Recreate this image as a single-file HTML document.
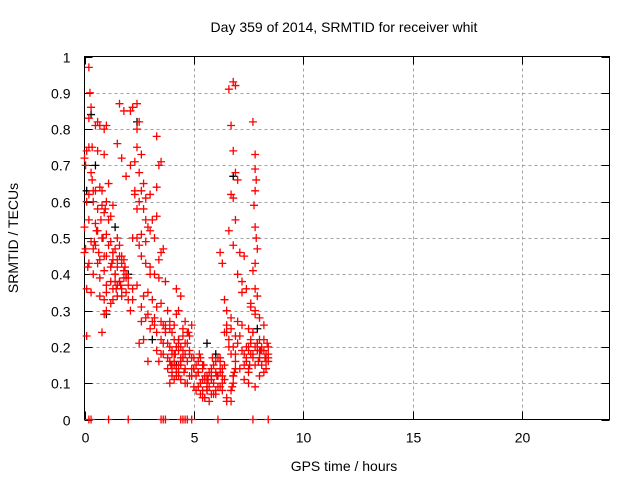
<!DOCTYPE html>
<html><head><meta charset="utf-8"><style>
body{margin:0;background:#fff;}
svg{display:block;font-family:"Liberation Sans",sans-serif;}
</style></head><body>
<svg id="chart" width="640" height="480" viewBox="0 0 640 480"></svg>
<script>
const xTicks=[0,5,10,15,20];
const yTicks=[0,0.1,0.2,0.3,0.4,0.5,0.6,0.7,0.8,0.9,1];
const yTickLabels=["0","0.1","0.2","0.3","0.4","0.5","0.6","0.7","0.8","0.9","1"];
const redHours=[0.2,0.25,0.3,0.2,0.5,0.6,0.7,0.9,1.0,0.1,0.2,0.35,0.6,0.9,1.1,0.0,0.05,0.3,0.4,0.5,0.7,0.8,1.0,1.3,0.1,0.2,0.4,0.6,0.8,0.9,1.1,1.2,0.0,0.2,0.5,0.6,0.8,1.0,1.2,1.5,1.6,0.05,0.3,0.4,0.7,0.9,1.1,1.3,1.4,1.6,1.8,0.0,0.2,0.5,0.6,0.9,1.0,1.3,1.5,1.7,1.9,0.1,0.4,0.7,1.0,1.2,1.4,1.6,1.8,2.0,0.7,1.0,1.3,1.5,1.7,1.9,0.9,1.2,1.4,1.7,2.0,0.9,1.3,1.5,1.6,1.8,2.1,1.5,1.7,1.9,2.2,2.4,2.5,2.4,2.4,2.6,2.1,2.3,2.5,2.7,2.6,2.8,3.0,3.3,3.3,3.5,3.4,3.3,3.4,3.0,2.3,2.5,2.7,2.8,2.9,3.0,3.1,2.4,2.6,2.8,3.2,3.5,3.6,2.5,2.6,2.8,3.0,3.2,3.4,3.7,2.2,2.4,2.7,2.9,3.1,3.3,3.5,3.8,2.2,2.6,2.9,3.2,3.5,3.6,3.7,3.9,4.1,3.3,3.5,3.7,3.9,4.0,4.1,4.3,4.5,4.7,4.4,4.3,4.2,4.4,4.3,4.2,4.6,4.7,4.5,4.8,4.9,3.7,3.8,3.9,4.0,4.1,4.2,4.3,4.5,4.6,4.8,5.0,3.4,3.6,3.8,4.0,4.1,4.3,4.5,4.7,4.9,5.1,5.3,3.9,4.0,4.2,4.3,4.4,4.6,4.8,5.0,5.2,5.4,5.6,5.8,4.0,4.1,4.2,4.4,4.6,4.9,5.2,5.4,5.6,5.8,6.0,6.2,4.1,4.3,4.7,5.0,5.3,5.5,5.7,5.9,6.1,6.3,4.2,4.4,5.1,5.3,5.5,5.6,5.8,6.0,6.2,6.4,5.2,5.4,5.5,5.7,5.9,6.1,6.3,6.5,5.4,5.6,6.0,6.3,6.5,6.7,6.2,6.3,6.4,6.5,6.6,6.7,6.8,6.9,6.5,6.7,6.9,7.0,7.2,7.4,6.2,6.4,6.7,6.9,7.1,7.3,7.5,6.8,6.9,6.85,6.8,6.8,6.75,6.7,6.8,6.9,6.6,6.7,6.8,6.9,7.0,6.7,6.8,6.9,6.6,6.8,7.1,7.3,7.0,7.2,7.4,7.6,7.8,7.0,7.2,7.5,7.7,7.9,8.1,7.3,7.5,7.6,7.8,8.0,8.2,8.4,7.4,7.6,7.7,7.9,8.1,8.3,8.4,7.5,7.8,8.0,8.2,8.4,7.3,7.5,7.8,8.0,8.3,7.7,7.8,7.8,7.85,7.8,7.75,7.8,7.85,7.9,7.8,7.7,7.8,7.9,7.6,7.8,8.0,8.2,7.7,8.0,0.1,0.2,0.3,2.0,3.5,3.6,3.7,4.4,4.5,4.6,4.7,4.9,6.1,7.7,8.4,
1.1,1.2,1.3,1.4,1.5,1.6,1.7,1.8,1.9,1.25,1.45,1.65,1.85,0.3,0.45,0.55,0.65,0.75,0.85,0.15,0.35,0.95,2.0,2.2,2.4,2.3,2.1,2.6,2.8,3.0,3.1,3.2,2.9,3.3,3.5,3.8,3.6,3.9,4.0,4.2,4.3,4.4,4.5,4.6,4.8,4.9,5.0,5.1,5.2,5.3,5.4,5.5,5.6,5.7,5.8,5.9,6.0,6.1,6.2,5.25,5.45,5.65,5.85,6.05,4.55,4.75,4.15,3.95,7.4,7.5,7.6,7.7,7.9,8.0,8.1,8.2,8.3,8.35,8.4,8.25,8.05,7.95,7.55,6.4,6.5,6.6,6.3,6.2,7.1,7.2,2.5,2.7,1.0,0.8];
const redValues=[0.97,0.90,0.86,0.83,0.81,0.82,0.81,0.80,0.81,0.74,0.75,0.75,0.74,0.73,0.65,0.72,0.70,0.68,0.63,0.63,0.64,0.63,0.60,0.59,0.60,0.62,0.60,0.58,0.59,0.57,0.55,0.56,0.53,0.55,0.54,0.52,0.50,0.51,0.49,0.50,0.48,0.47,0.49,0.47,0.44,0.45,0.48,0.46,0.47,0.45,0.44,0.46,0.43,0.48,0.43,0.41,0.45,0.44,0.42,0.43,0.40,0.36,0.40,0.39,0.37,0.38,0.40,0.38,0.39,0.37,0.34,0.35,0.36,0.34,0.36,0.35,0.33,0.32,0.38,0.34,0.33,0.29,0.33,0.37,0.87,0.85,0.85,0.76,0.72,0.67,0.86,0.87,0.82,0.80,0.75,0.73,0.70,0.71,0.68,0.65,0.63,0.61,0.62,0.56,0.78,0.71,0.70,0.64,0.44,0.40,0.63,0.60,0.58,0.55,0.53,0.52,0.55,0.50,0.51,0.49,0.50,0.46,0.47,0.48,0.45,0.43,0.42,0.40,0.39,0.38,0.36,0.37,0.34,0.35,0.33,0.31,0.32,0.30,0.33,0.31,0.29,0.28,0.27,0.26,0.25,0.27,0.26,0.24,0.22,0.26,0.25,0.24,0.22,0.21,0.23,0.21,0.20,0.22,0.36,0.34,0.30,0.29,0.27,0.24,0.25,0.23,0.26,0.24,0.21,0.20,0.19,0.18,0.20,0.19,0.17,0.18,0.19,0.17,0.16,0.18,0.17,0.18,0.16,0.15,0.17,0.16,0.14,0.15,0.17,0.16,0.15,0.14,0.13,0.15,0.14,0.12,0.14,0.13,0.15,0.12,0.14,0.13,0.15,0.12,0.11,0.10,0.12,0.13,0.11,0.10,0.12,0.13,0.14,0.11,0.12,0.10,0.09,0.10,0.11,0.09,0.10,0.12,0.14,0.13,0.16,0.08,0.07,0.06,0.08,0.07,0.08,0.09,0.11,0.09,0.08,0.06,0.05,0.07,0.09,0.10,0.05,0.06,0.08,0.07,0.08,0.06,0.05,0.46,0.43,0.33,0.24,0.22,0.25,0.20,0.18,0.30,0.28,0.23,0.21,0.19,0.17,0.16,0.15,0.18,0.16,0.14,0.15,0.13,0.12,0.14,0.13,0.12,0.10,0.09,0.08,0.93,0.92,0.91,0.81,0.74,0.68,0.66,0.62,0.61,0.55,0.52,0.48,0.46,0.45,0.40,0.38,0.36,0.32,0.29,0.27,0.26,0.25,0.24,0.21,0.20,0.18,0.19,0.21,0.20,0.22,0.19,0.17,0.16,0.18,0.17,0.19,0.15,0.16,0.18,0.14,0.15,0.17,0.13,0.16,0.11,0.10,0.09,0.12,0.14,0.82,0.73,0.69,0.66,0.63,0.59,0.53,0.50,0.47,0.43,0.41,0.36,0.34,0.31,0.30,0.28,0.26,0.24,0.19,0.23,0,0,0,0,0,0,0,0,0,0,0,0,0,0,0,
0.42,0.46,0.40,0.44,0.38,0.45,0.41,0.39,0.43,0.36,0.37,0.42,0.35,0.49,0.52,0.46,0.55,0.50,0.42,0.66,0.58,0.39,0.50,0.58,0.62,0.30,0.27,0.28,0.25,0.27,0.26,0.16,0.19,0.18,0.14,0.21,0.10,0.12,0.20,0.22,0.17,0.19,0.21,0.18,0.17,0.14,0.12,0.16,0.10,0.14,0.12,0.09,0.13,0.11,0.15,0.16,0.17,0.13,0.18,0.15,0.11,0.17,0.12,0.13,0.24,0.18,0.15,0.20,0.20,0.22,0.18,0.21,0.17,0.19,0.22,0.18,0.21,0.20,0.17,0.19,0.16,0.15,0.24,0.26,0.20,0.12,0.17,0.23,0.35,0.21,0.22,0.30,0.24,0.48,0.47];
const blackHours=[0.1,0.3,0.5,1.0,1.4,2.0,2.4,3.1,4.2,5.6,6.0,6.8,7.9];
const blackValues=[0.63,0.84,0.70,0.29,0.53,0.40,0.82,0.22,0.15,0.21,0.18,0.67,0.25];

const L=84.5,R=609.5,T=56.5,B=419.5,XMAX=24;
const sx=h=>L+h/XMAX*(R-L), sy=v=>B-v*(B-T);
const svg=document.getElementById('chart');
const NS='http://www.w3.org/2000/svg';
function mk(tag,attrs){const e=document.createElementNS(NS,tag);for(const k in attrs)e.setAttribute(k,attrs[k]);svg.appendChild(e);return e;}
const tt=mk('text',{x:344,y:32,'text-anchor':'middle','font-size':14,fill:'#000'});


tt.textContent='Day 359 of 2014, SRMTID for receiver whit';
yTicks.forEach((v,i)=>{
  const y=Math.round(sy(v))+0.5;
  if(v>0&&v<1){const g=mk('line',{x1:L,x2:R,y1:y,y2:y,stroke:'#a0a0a0','stroke-dasharray':'3,3','stroke-width':1});
  
  }
  mk('line',{x1:L,x2:L+8,y1:y,y2:y,stroke:'#000'});
  mk('line',{x1:R,x2:R-8,y1:y,y2:y,stroke:'#000'});
  const t=mk('text',{x:L-14,y:y+5,'text-anchor':'end','font-size':14,fill:'#000'});
  
  
  t.textContent=yTickLabels[i];
});
xTicks.forEach(h=>{
  const x=Math.round(sx(h))+0.5;
  if(h>0){const g=mk('line',{x1:x,x2:x,y1:T,y2:B,stroke:'#a0a0a0','stroke-dasharray':'3,3','stroke-width':1});
  
  }
  mk('line',{x1:x,x2:x,y1:B,y2:B-8,stroke:'#000'});
  mk('line',{x1:x,x2:x,y1:T,y2:T+8,stroke:'#000'});
  const t=mk('text',{x:x,y:B+23,'text-anchor':'middle','font-size':14,fill:'#000'});
  
  
  t.textContent=String(h);
});
const fr=mk('rect',{x:L,y:T,width:R-L,height:B-T,fill:'none',stroke:'#000'});


const xl=mk('text',{x:344,y:471,'text-anchor':'middle','font-size':14,fill:'#000'});


xl.textContent='GPS time / hours';
const yl=mk('text',{x:0,y:0,'text-anchor':'middle','font-size':14,fill:'#000',transform:'translate(18,238) rotate(-90)'});


yl.textContent='SRMTID / TECUs';
function plus(h,v,c,name){
  const x=sx(h),y=sy(v);
  const p=mk('path',{d:`M${x-4} ${y}H${x+4}M${x} ${y-4}V${y+4}`,stroke:c,'stroke-width':1.3,fill:'none'});
  
  
}
blackHours.forEach((h,i)=>plus(h,blackValues[i],'#000','black-point'));
redHours.forEach((h,i)=>plus(h,redValues[i],'#ff0000','red-point'));
</script>
</body></html>
